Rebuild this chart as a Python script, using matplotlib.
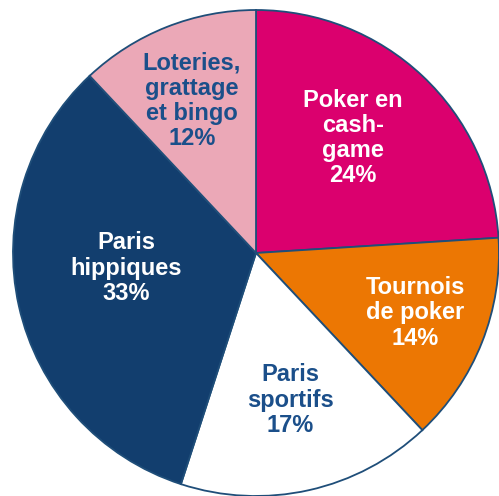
import matplotlib
matplotlib.use("Agg")
from matplotlib import pyplot as plt

labels = ["Poker en\ncash-\ngame", "Tournois\nde poker", "Paris\nsportifs", "Paris\nhippiques", "Loteries,\ngrattage\net bingo"]
shares = [24, 14, 17, 33, 12]
colors = ["#DB006E", "#EC7703", "#FFFFFF", "#123E6E", "#EBA8B7"]
text_colors = ["white", "white", "#1B4F8A", "white", "#1B4F8A"]
# label centres in pixel coords of the reference picture
label_px = [(353, 138), (415, 313), (290, 400), (126, 268), (192, 101)]

W, H = 499, 496
cx, cy, r = 256, 253, 243

fig = plt.figure(figsize=(W / 100, H / 100), dpi=100)
ax = fig.add_axes([0, 0, 1, 1])
ax.pie(shares, colors=colors, startangle=90, counterclock=False, radius=1,
       wedgeprops=dict(edgecolor="#1F4E79", linewidth=1.3))

for lab, s, col, (px, py) in zip(labels, shares, text_colors, label_px):
    ax.text((px - cx) / r, (cy - py) / r, f"{lab}\n{s}%", ha="center", va="center",
            color=col, fontsize=17, fontweight="bold", family="Liberation Sans",
            linespacing=1.12)

ax.set_xlim(-cx / r, (W - cx) / r)
ax.set_ylim(-(H - cy) / r, cy / r)
ax.set_aspect("auto")
ax.axis("off")
fig.savefig("out.png", dpi=100)
